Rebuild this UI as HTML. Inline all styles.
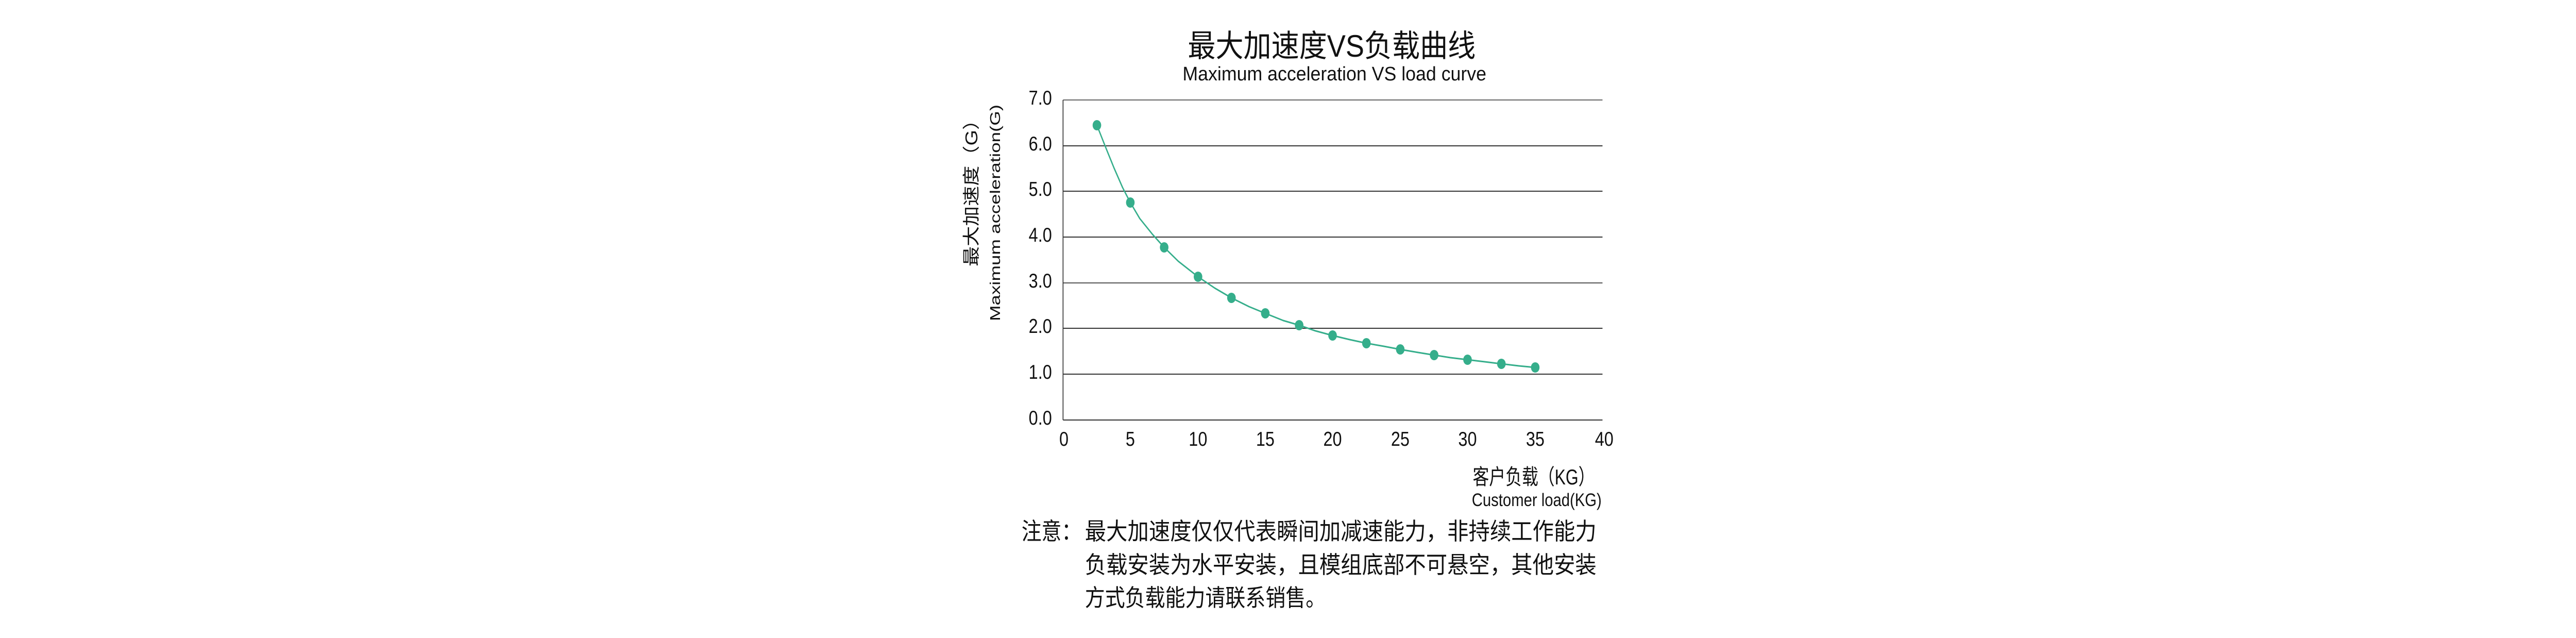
<!DOCTYPE html>
<html><head><meta charset="utf-8"><style>
html,body{margin:0;padding:0;background:#fff;width:100%;height:100%;overflow:hidden;}
svg{display:block;width:100vw;height:100vh;}
text{font-family:"Liberation Sans","Noto Sans CJK SC",sans-serif;fill:#111;}
</style></head><body>
<svg viewBox="0 0 6012 1238" preserveAspectRatio="none" xmlns="http://www.w3.org/2000/svg">
<rect width="6012" height="1238" fill="#fff"/>
<text x="2772" y="110" font-size="60" textLength="672" lengthAdjust="spacingAndGlyphs">最大加速度VS负载曲线</text>
<text x="2760" y="156" font-size="38" textLength="709" lengthAdjust="spacingAndGlyphs">Maximum acceleration VS load curve</text>
<g stroke="#333" stroke-width="2">
<line x1="2481" y1="194" x2="3740" y2="194" stroke="#666"/>
<line x1="2481" y1="283" x2="3740" y2="283"/>
<line x1="2481" y1="371" x2="3740" y2="371"/>
<line x1="2481" y1="460" x2="3740" y2="460"/>
<line x1="2481" y1="549" x2="3740" y2="549" stroke="#555"/>
<line x1="2481" y1="637" x2="3740" y2="637"/>
<line x1="2481" y1="726" x2="3740" y2="726"/>
<line x1="2481" y1="815" x2="3740" y2="815"/>
<line x1="2481" y1="194" x2="2481" y2="815"/>
</g>
<g font-size="39" text-anchor="end">
<text x="2455" y="203">7.0</text><text x="2455" y="292">6.0</text><text x="2455" y="380">5.0</text><text x="2455" y="469">4.0</text><text x="2455" y="558">3.0</text><text x="2455" y="646">2.0</text><text x="2455" y="735">1.0</text><text x="2455" y="824">0.0</text>
</g>
<g font-size="39" text-anchor="middle">
<text x="2483" y="865">0</text><text x="2638" y="865">5</text><text x="2796" y="865">10</text><text x="2953" y="865">15</text><text x="3110" y="865">20</text><text x="3268" y="865">25</text><text x="3425" y="865">30</text><text x="3583" y="865">35</text><text x="3744" y="865">40</text>
</g>
<text x="3437" y="940" font-size="42" textLength="285" lengthAdjust="spacingAndGlyphs">客户负载（KG）</text>
<text x="3435" y="982" font-size="35" textLength="303" lengthAdjust="spacingAndGlyphs">Customer load(KG)</text>
<text transform="translate(2281,517) rotate(-90)" font-size="40" textLength="304" lengthAdjust="spacingAndGlyphs">最大加速度（G）</text>
<text transform="translate(2334,623) rotate(-90)" font-size="33" textLength="420" lengthAdjust="spacingAndGlyphs">Maximum acceleration(G)</text>
<polyline fill="none" stroke="#35AE8B" stroke-width="3" stroke-linejoin="round" points="2560,243 2580,285 2600,326 2620,364 2638,393 2660,424 2690,455 2717,480 2750,507 2796,537 2835,559 2874,578 2915,595 2953,608 2995,622 3032,631 3070,642 3110,651 3150,659 3189,666 3230,672 3268,678 3310,684 3347,689 3385,694 3425,698 3465,702 3504,706 3545,710 3583,713"/>
<g fill="#35AE8B">
<circle cx="2560" cy="243" r="10"/><circle cx="2638" cy="393" r="10"/><circle cx="2717" cy="480" r="10"/><circle cx="2796" cy="537" r="10"/><circle cx="2874" cy="578" r="10"/><circle cx="2953" cy="608" r="10"/><circle cx="3032" cy="631" r="10"/><circle cx="3110" cy="651" r="10"/><circle cx="3189" cy="666" r="10"/><circle cx="3268" cy="678" r="10"/><circle cx="3347" cy="689" r="10"/><circle cx="3425" cy="698" r="10"/><circle cx="3504" cy="706" r="10"/><circle cx="3583" cy="713" r="10"/>
</g>
<g font-size="46">
<text x="2384" y="1047" textLength="140" lengthAdjust="spacingAndGlyphs">注意：</text>
<text x="2532" y="1047" textLength="1194" lengthAdjust="spacingAndGlyphs">最大加速度仅仅代表瞬间加减速能力，非持续工作能力</text>
<text x="2532" y="1112" textLength="1194" lengthAdjust="spacingAndGlyphs">负载安装为水平安装，且模组底部不可悬空，其他安装</text>
<text x="2532" y="1176" textLength="562" lengthAdjust="spacingAndGlyphs">方式负载能力请联系销售。</text>
</g>
</svg>
</body></html>
